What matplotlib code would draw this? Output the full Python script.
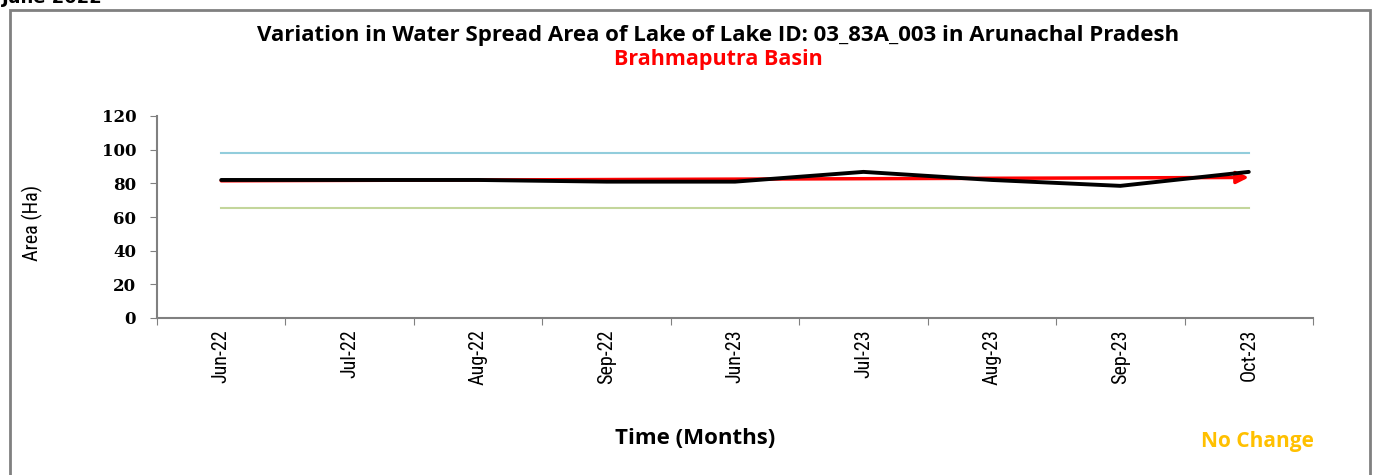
import matplotlib
matplotlib.use("Agg")
import matplotlib.pyplot as plt
from matplotlib.patches import Rectangle
from matplotlib import font_manager as fm

months = ["Jun-22", "Jul-22", "Aug-22", "Sep-22", "Jun-23", "Jul-23", "Aug-23", "Sep-23", "Oct-23"]
area = [82.0, 82.0, 82.0, 81.0, 81.0, 86.8, 82.0, 78.5, 86.8]
upper_limit = [98.0] * len(months)
lower_limit = [65.5] * len(months)
trend = [81.5, 83.5]  # start / end of trend arrow
yticks = [0, 20, 40, 60, 80, 100, 120]

# look for a condensed / narrow sans font
narrow_fp = None
cands = []
for f in fm.fontManager.ttflist:
    key = (f.name + " " + f.fname).lower()
    if ("narrow" in key or "condensed" in key) and f.weight in (400, "normal", "regular") \
            and f.style == "normal" and "mono" not in key and "serif" not in key.replace("sans", ""):
        cands.append(f)
if cands:
    pref = sorted(cands, key=lambda f: (0 if "liberation" in f.fname.lower() else
                                        1 if "roboto" in f.fname.lower() else
                                        2 if "open" in f.fname.lower() else 3))
    narrow_fp = fm.FontProperties(fname=pref[0].fname)

def narrow_prop(size):
    if narrow_fp is not None:
        p = fm.FontProperties(fname=narrow_fp.get_file())
    else:
        p = fm.FontProperties(family="DejaVu Sans")
    p.set_size(size)
    return p

W, H = 1380, 475
fig = plt.figure(figsize=(W / 100, H / 100), dpi=100)
fig.patch.set_facecolor("white")

fig.add_artist(Rectangle((10 / W, -0.01), (1370 - 10) / W, (H - 10) / H + 0.01,
                         transform=fig.transFigure, fill=False, edgecolor="#808080", linewidth=2))
fig.text(2 / W, 1 + 2 / H, "June 2022", fontsize=13, fontweight="bold", va="center", ha="left",
         family="DejaVu Sans")

ax = fig.add_axes([157 / W, 1 - 318 / H, (1313 - 157) / W, (318 - 116) / H])
x = list(range(len(months)))

ax.plot(x, upper_limit, color="#92CDDC", linewidth=1.5, zorder=2)
ax.plot(x, lower_limit, color="#C3D69B", linewidth=1.5, zorder=2)
ax.annotate("", xy=(x[-1], trend[1]), xytext=(x[0], trend[0]),
            arrowprops=dict(arrowstyle="-|>", color="red", lw=2.5, mutation_scale=18,
                            shrinkA=0, shrinkB=0), zorder=3)
ax.plot(x, area, color="black", linewidth=2.8, zorder=4, solid_capstyle="round")

ax.set_xlim(-0.5, len(months) - 0.5)
ax.set_ylim(0, 120)
ax.set_yticks(yticks)
ax.set_yticklabels([str(v) for v in yticks], fontsize=12, fontweight="bold", family="DejaVu Serif")
ax.set_xticks([i + 0.5 for i in range(-1, len(months))], minor=False)
ax.set_xticklabels([])
ax.set_xticks(x, minor=True)
ax.set_xticklabels(months, minor=True, rotation=90, fontproperties=narrow_prop(14.5))
ax.tick_params(axis="x", which="minor", length=0, pad=8)
ax.tick_params(axis="x", which="major", length=5, color="#808080", direction="out")
ax.tick_params(axis="y", length=5, color="#808080", direction="out", pad=10)
for side in ["top", "right"]:
    ax.spines[side].set_visible(False)
for side in ["left", "bottom"]:
    ax.spines[side].set_color("#808080")
    ax.spines[side].set_linewidth(1.5)

ax.set_ylabel("Area (Ha)", fontproperties=narrow_prop(14.5))
ax.yaxis.set_label_coords(-0.0986, 0.47)

fig.text(718 / W, 1 - 36 / H, "Variation in Water Spread Area of Lake of Lake ID: 03_83A_003 in Arunachal Pradesh",
         ha="center", va="center", fontsize=16, fontweight="bold", family="Open Sans")
fig.text(718 / W, 1 - 59 / H, "Brahmaputra Basin", ha="center", va="center", fontsize=15.5,
         fontweight="bold", color="red", family="Open Sans")
fig.text(695 / W, 1 - 439 / H, "Time (Months)", ha="center", va="center", fontsize=16,
         fontweight="bold", family="Open Sans")
fig.text(1257 / W, 1 - 441 / H, "No Change", ha="center", va="center", fontsize=15,
         fontweight="bold", color="#FFC000", family="Open Sans")

fig.savefig("out.png", dpi=100, facecolor="white")
